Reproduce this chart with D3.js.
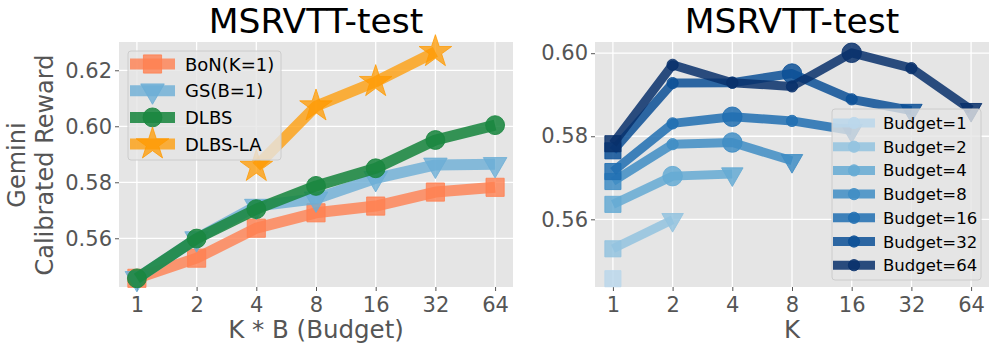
<!DOCTYPE html>
<html>
<head>
<meta charset="utf-8">
<script src="https://cdn.jsdelivr.net/npm/d3@7"></script>
<style>
  body { margin: 0; background: #fff; }
  text { font-family: "DejaVu Sans", sans-serif; }
</style>
</head>
<body>
<script>
// ---- data ----
const budgets = [1, 2, 4, 8, 16, 32, 64];
const bonVals  = [0.5457, 0.5529, 0.5636, 0.5691, 0.5715, 0.5765, 0.5782];
const gsVals   = [0.5457, 0.5599, 0.5715, 0.5741, 0.5814, 0.5862, 0.5864];
const dlbsVals = [0.5457, 0.5599, 0.5704, 0.5787, 0.5850, 0.5951, 0.6004];
const dlbsLaBudgets = [4, 8, 16, 32];
const dlbsLaVals = [0.5856, 0.6072, 0.6159, 0.6266];

const kValues = [1, 2, 4, 8, 16, 32, 64];
const budgetVals = [
  [0.5457],
  [0.5529, 0.5599],
  [0.5636, 0.5704, 0.5709],
  [0.5691, 0.5781, 0.5785, 0.5741],
  [0.5715, 0.5831, 0.5847, 0.5837, 0.5814],
  [0.5765, 0.5928, 0.5929, 0.5951, 0.5889, 0.5862],
  [0.5782, 0.5972, 0.5929, 0.5920, 0.6001, 0.5964, 0.5864]
];
const bestK = [null, null, 2, 4, 4, 8, 16];
const yTicksLeft = [0.56, 0.58, 0.60, 0.62];
const yTicksRight = [0.56, 0.58, 0.60];

const width = 996, height = 351;
const svg = d3.select("body").append("svg")
  .attr("width", width)
  .attr("height", height);

function panel(left, right, yDomain, yTicks, title, xlabel) {
  const top = 42, bottom = 287;
  const x = d3.scaleLog().base(2)
    .domain([Math.pow(2, -0.3), Math.pow(2, 6.3)])
    .range([left, right]);
  const y = d3.scaleLinear().domain(yDomain).range([bottom, top]);

  svg.append("rect")
    .attr("x", left).attr("y", top)
    .attr("width", right - left).attr("height", bottom - top)
    .attr("fill", "#e5e5e5");

  // grid
  svg.append("g").selectAll("line").data(budgets).join("line")
    .attr("x1", d => x(d)).attr("x2", d => x(d))
    .attr("y1", top).attr("y2", bottom)
    .attr("stroke", "#fff").attr("stroke-width", 1.3);
  svg.append("g").selectAll("line").data(yTicks).join("line")
    .attr("x1", left).attr("x2", right)
    .attr("y1", d => y(d)).attr("y2", d => y(d))
    .attr("stroke", "#fff").attr("stroke-width", 1.3);

  const xaxis = d3.axisBottom(x).tickValues(budgets).tickFormat(d3.format("d"))
    .tickSize(4).tickPadding(6);
  const gx = svg.append("g").attr("transform", `translate(0,${bottom})`).call(xaxis);
  gx.select(".domain").remove();
  gx.selectAll("line").attr("stroke", "#555");
  gx.selectAll("text").attr("fill", "#555").attr("font-size", "21px")
    .attr("font-family", "DejaVu Sans");

  const yaxis = d3.axisLeft(y).tickValues(yTicks).tickFormat(d3.format(".2f"))
    .tickSize(4).tickPadding(3);
  const gy = svg.append("g").attr("transform", `translate(${left},0)`).call(yaxis);
  gy.select(".domain").remove();
  gy.selectAll("line").attr("stroke", "#555");
  gy.selectAll("text").attr("fill", "#555").attr("font-size", "21px")
    .attr("font-family", "DejaVu Sans");

  svg.append("text")
    .attr("x", (left + right) / 2).attr("y", 33)
    .attr("text-anchor", "middle")
    .attr("font-size", "34.5px")
    .attr("fill", "#000")
    .text(title);

  svg.append("text")
    .attr("x", (left + right) / 2).attr("y", 338)
    .attr("text-anchor", "middle")
    .attr("font-size", "24.5px")
    .attr("fill", "#555")
    .text(xlabel);

  return {x, y};
}

const symbolOf = {
  square: d3.symbolSquare,
  tri: d3.symbolTriangle,
  circle: d3.symbolCircle,
  star: d3.symbolStar
};

function marker(g, shape, size, cx, cy, color, alpha) {
  g.append("path")
    .attr("d", d3.symbol().type(symbolOf[shape]).size(size)())
    .attr("transform", `translate(${cx},${cy})` + (shape === "tri" ? " rotate(180)" : ""))
    .attr("fill", color)
    .attr("fill-opacity", alpha)
    .attr("stroke", color)
    .attr("stroke-opacity", alpha)
    .attr("stroke-width", 1);
}

// ---- left panel ----
const L = panel(119, 513, [0.5426, 0.6301], yTicksLeft, "MSRVTT-test", "K * B (Budget)");

svg.append("text")
  .attr("transform", "translate(25,165) rotate(-90)")
  .attr("text-anchor", "middle")
  .attr("font-size", "24px")
  .attr("fill", "#555")
  .text("Gemini");
svg.append("text")
  .attr("transform", "translate(53,165) rotate(-90)")
  .attr("text-anchor", "middle")
  .attr("font-size", "24px")
  .attr("fill", "#555")
  .text("Calibrated Reward");

const leftSeries = [
  {name: "BoN(K=1)", xs: budgets, ys: bonVals, color: "#ff7f50", alpha: 0.8, shape: "square", size: 330},
  {name: "GS(B=1)", xs: budgets, ys: gsVals, color: "#6baed6", alpha: 0.8, shape: "tri", size: 240},
  {name: "DLBS", xs: budgets, ys: dlbsVals, color: "#1a8640", alpha: 0.88, shape: "circle", size: 280},
  {name: "DLBS-LA", xs: dlbsLaBudgets, ys: dlbsLaVals, color: "#ff9900", alpha: 0.75, shape: "star", size: 330}
];

const lineL = d3.line().x(d => L.x(d[0])).y(d => L.y(d[1]));
leftSeries.forEach(s => {
  const g = svg.append("g");
  const pts = s.xs.map((v, i) => [v, s.ys[i]]);
  g.append("path")
    .attr("d", lineL(pts))
    .attr("fill", "none")
    .attr("stroke", s.color)
    .attr("stroke-opacity", s.alpha)
    .attr("stroke-width", 11)
    .attr("stroke-linejoin", "round");
  pts.forEach(p => marker(g, s.shape, s.size, L.x(p[0]), L.y(p[1]), s.color, s.alpha));
});

// left legend
const legL = svg.append("g");
legL.append("rect")
  .attr("x", 128).attr("y", 51).attr("width", 153).attr("height", 109)
  .attr("rx", 3)
  .attr("fill", "#e5e5e5").attr("fill-opacity", 0.8)
  .attr("stroke", "#cccccc").attr("stroke-width", 1);
leftSeries.forEach((s, i) => {
  const cy = 64 + i * 26.7;
  legL.append("line")
    .attr("x1", 130).attr("x2", 175).attr("y1", cy).attr("y2", cy)
    .attr("stroke", s.color).attr("stroke-opacity", s.alpha).attr("stroke-width", 11);
  marker(legL, s.shape, s.size, 152.5, cy, s.color, s.alpha);
  legL.append("text")
    .attr("x", 185).attr("y", cy + 6.5)
    .attr("font-size", "18px")
    .attr("fill", "#000")
    .text(s.name);
});

// ---- right panel ----
const R = panel(595, 989, [0.5437, 0.6027], yTicksRight, "MSRVTT-test", "K");

const blues = budgets.map((b, i) => d3.interpolateBlues(0.28 + i * 0.72 / 6));
const lineR = d3.line().x(d => R.x(d[0])).y(d => R.y(d[1]));

budgetVals.forEach((vals, i) => {
  const g = svg.append("g");
  const color = blues[i];
  const alpha = 0.85;
  const pts = vals.map((v, j) => [kValues[j], v]);
  g.append("path")
    .attr("d", lineR(pts))
    .attr("fill", "none")
    .attr("stroke", color)
    .attr("stroke-opacity", alpha)
    .attr("stroke-width", 9)
    .attr("stroke-linejoin", "round");
  pts.forEach((p, j) => {
    let shape = "circle", size = 100;
    if (j === 0) { shape = "square"; size = 260; }
    else if (j === pts.length - 1) { shape = "tri"; size = 200; }
    else if (p[0] === bestK[i]) { shape = "circle"; size = 300; }
    marker(g, shape, size, R.x(p[0]), R.y(p[1]), color, alpha);
  });
});

// right legend
const legR = svg.append("g");
legR.append("rect")
  .attr("x", 832).attr("y", 109).attr("width", 149).attr("height", 171)
  .attr("rx", 3)
  .attr("fill", "#e5e5e5").attr("fill-opacity", 0.8)
  .attr("stroke", "#cccccc").attr("stroke-width", 1);
budgets.forEach((b, i) => {
  const cy = 123 + i * 23.7;
  legR.append("line")
    .attr("x1", 833).attr("x2", 875).attr("y1", cy).attr("y2", cy)
    .attr("stroke", blues[i]).attr("stroke-opacity", 0.85).attr("stroke-width", 9);
  marker(legR, "circle", 100, 854, cy, blues[i], 0.85);
  legR.append("text")
    .attr("x", 883).attr("y", cy + 6)
    .attr("font-size", "16.5px")
    .attr("fill", "#000")
    .text("Budget=" + b);
});
</script>
</body>
</html>
